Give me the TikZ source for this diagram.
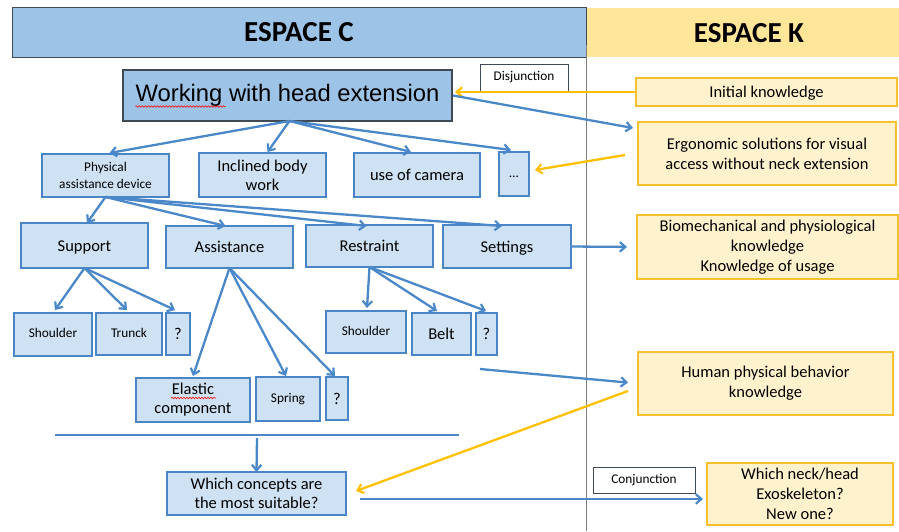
\documentclass[tikz,border=0pt]{standalone}
\usepackage{fontspec}
\setmainfont{Carlito}
\newfontfamily\arialfont{Liberation Sans}
\usetikzlibrary{arrows.meta,calc,decorations.pathmorphing}

\definecolor{hdrblue}{HTML}{9DC3E6}
\definecolor{hdrgold}{HTML}{FFE699}
\definecolor{boxblue}{HTML}{4A86C6}
\definecolor{boxfill}{HTML}{CFE2F3}
\definecolor{arrblue}{HTML}{4A88C9}
\definecolor{kline}{HTML}{F5C12E}
\definecolor{kfill}{HTML}{FFF2CC}
\definecolor{arrgold}{HTML}{FFC000}
\definecolor{edgegray}{HTML}{404A55}
\definecolor{divgray}{HTML}{7F7F7F}

\begin{document}
\begin{tikzpicture}[x=1pt,y=-1pt,
  every node/.style={inner sep=0pt,outer sep=0pt,align=center},
  header/.style={font=\fontsize{29}{34}\selectfont\bfseries},
  cbox/.style={draw=boxblue,fill=boxfill,line width=2.7pt,
               font=\fontsize{16.5}{19}\selectfont},
  smallbox/.style={cbox,font=\fontsize{13.3}{16.5}\selectfont},
  oneline/.style={text height=13.5pt,text depth=2pt},
  onesmall/.style={text height=9.8pt,text depth=3.6pt},
  kbox/.style={draw=kline,fill=kfill,line width=2.8pt,
               font=\fontsize{16.5}{20}\selectfont},
  tagbox/.style={draw=edgegray,fill=white,line width=1pt,
               font=\fontsize{13.3}{16}\selectfont},
  tip/.style={-{Straight Barb[length=5.5pt,width=9.5pt,line width=2.2pt]}},
  barrow/.style={draw=arrblue,line width=2.3pt,tip},
  yarrow/.style={draw=arrgold,line width=2.3pt,tip},
  spell/.style={draw=red,line width=0.6pt,decorate,
               decoration={snake,amplitude=0.8pt,segment length=3pt}}]

\useasboundingbox (0,0) rectangle (899,531);

% headers of the two spaces
\fill[hdrgold] (586,8) rectangle (899,57);
\node[header] (hdrK) at (749,33) {ESPACE K};
\node[draw=edgegray,fill=hdrblue,line width=1pt,minimum width=574pt,
      minimum height=50pt] (hdrC) at (299,32) {};
\node[header] at (hdrC.center) {ESPACE C};

% divider between C and K
\draw[divgray,line width=1pt] (586,45) -- (586,531);

% root concept
\node[draw=edgegray,fill=hdrblue,line width=1.2pt,minimum width=329pt,
      minimum height=51pt,font=\arialfont\fontsize{23.8}{28}\selectfont]
      (main) at (287.5,95.5) {Working with head extension};
\draw[spell] ($(main.center)+(-152,11)$) -- ($(main.center)+(-62,11)$);

\node[tagbox,onesmall,minimum width=88pt,minimum height=27pt] (disj) at (524,77.5) {Disjunction};

% first partition
\node[smallbox,minimum width=127pt,minimum height=43pt] (phys) at (105.5,175.5)
      {Physical\\assistance device};
\node[cbox,minimum width=127pt,minimum height=44pt] (incl) at (262.5,175)
      {Inclined body\\work};
\node[cbox,oneline,minimum width=126pt,minimum height=44pt] (cam) at (417,175) {use of camera};
\node[smallbox,onesmall,minimum width=30pt,minimum height=44pt] (dots) at (514,174) {\dots};

% second partition
\node[cbox,oneline,minimum width=127pt,minimum height=45pt] (sup) at (84.5,245.5) {Support};
\node[cbox,oneline,minimum width=127pt,minimum height=42pt] (ass) at (229.5,247) {Assistance};
\node[cbox,oneline,minimum width=127pt,minimum height=42pt] (res) at (369.5,246) {Restraint};
\node[cbox,oneline,minimum width=128pt,minimum height=43pt] (set) at (507,246.5) {Settings};

% third partition
\node[smallbox,onesmall,minimum width=78pt,minimum height=43pt] (sh1) at (53,334.5) {Shoulder};
\node[smallbox,onesmall,minimum width=66pt,minimum height=42pt] (tr) at (129,334) {Trunck};
\node[cbox,oneline,minimum width=24pt,minimum height=42pt] (q1) at (178,334) {?};
\node[smallbox,onesmall,minimum width=80pt,minimum height=42pt] (sh2) at (366,332) {Shoulder};
\node[cbox,oneline,minimum width=59pt,minimum height=42pt] (belt) at (441.5,334) {Belt};
\node[cbox,oneline,minimum width=21pt,minimum height=42pt] (q2) at (486.5,334) {?};
\node[cbox,minimum width=114pt,minimum height=44pt] (ela) at (193,400)
      {Elastic\\component};
\draw[spell] ($(ela.center)+(-22,-2)$) -- ($(ela.center)+(23,-2)$);
\node[smallbox,onesmall,minimum width=64pt,minimum height=44pt] (spr) at (288,399) {Spring};
\node[cbox,oneline,minimum width=22pt,minimum height=43pt] (q3) at (337,398.5) {?};

% conclusion
\node[cbox,minimum width=179pt,minimum height=43pt] (which) at (256.5,493.5)
      {Which concepts are\\the most suitable?};

% knowledge space
\node[kbox,oneline,minimum width=261pt,minimum height=28pt] (init) at (766.5,92) {Initial knowledge};
\node[kbox,minimum width=258pt,minimum height=63pt] (ergo) at (767,153.5)
      {Ergonomic solutions for visual\\access without neck extension};
\node[kbox,minimum width=261pt,minimum height=64pt] (bio) at (767.5,247)
      {Biomechanical and physiological\\knowledge\\Knowledge of usage};
\node[kbox,minimum width=255pt,minimum height=63pt] (hum) at (765.5,383.5)
      {Human physical behavior\\knowledge};
\node[tagbox,onesmall,minimum width=102pt,minimum height=26pt] (conj) at (644,480) {Conjunction};
\node[kbox,minimum width=186pt,minimum height=62pt] (neck) at (800,494)
      {Which neck/head\\Exoskeleton?\\New one?};

% expansion of the root
\draw[barrow] ($(main.south)+(2,0)$) -- ($(phys.north)+(4,-1)$);
\draw[barrow] ($(main.south)+(2,0)$) -- ($(incl.north)+(5,-1)$);
\draw[barrow] ($(main.south)+(2,0)$) -- ($(cam.north)+(-6,-1)$);
\draw[barrow] ($(main.south)+(2,0)$) -- ($(dots.north)+(-3,-2)$);

% expansion of the physical assistance device
\draw[barrow] (phys.south) -- ($(sup.north)+(2.5,0)$);
\draw[barrow] (phys.south) -- ($(ass.north)+(-4,0)$);
\draw[barrow] (phys.south) -- ($(res.north)+(-3,1)$);
\draw[barrow] (phys.south) -- ($(set.north)+(-5,1)$);

\draw[barrow] (sup.south) -- ($(sh1.north)+(2,-3)$);
\draw[barrow] (sup.south) -- ($(tr.north)+(-2,-3)$);
\draw[barrow] (sup.south) -- ($(q1.north)+(-3,-3)$);

\draw[barrow] (ass.south) -- ($(ela.north)+(0,-2)$);
\draw[barrow] (ass.south) -- ($(spr.north)+(-2,-1)$);
\draw[barrow] (ass.south) -- ($(q3.north)+(-2,-1)$);

\draw[barrow] (res.south) -- ($(sh2.north)+(1,-3)$);
\draw[barrow] (res.south) -- ($(belt.north)+(-4.5,-2)$);
\draw[barrow] (res.south) -- ($(q2.north)+(-0.5,-2)$);

% links between the two spaces
\draw[yarrow,shorten >=3pt] (init.west) -- (init.west -| main.east);
\draw[barrow] ($(main.east)+(1,0)$) -- ($(ergo.north west)+(-5,6)$);
\draw[yarrow] ($(ergo.west)+(-13,1.5)$) -- ($(dots.east)+(6,-4)$);
\draw[barrow,shorten >=10pt] (set.east) -- (bio.west);
\coordinate (behav) at (480,369);
\draw[barrow,shorten >=10pt] (behav) -- (hum.west);
\draw[yarrow] ($(hum.west)+(-10,7.5)$) -- ($(which.east)+(10,-2.5)$);

% synthesis of the concepts
\coordinate (synthL) at (55,435);
\coordinate (synthR) at (459,435);
\draw[arrblue,line width=2.4pt] (synthL) -- (synthR);
\coordinate (synthM) at (257,438);
\draw[barrow] (synthM) -- (which.north);
\draw[barrow] ($(which.east)+(14,5.5)$) -- ($(neck.west)+(-4,5)$);

\end{tikzpicture}
\end{document}
